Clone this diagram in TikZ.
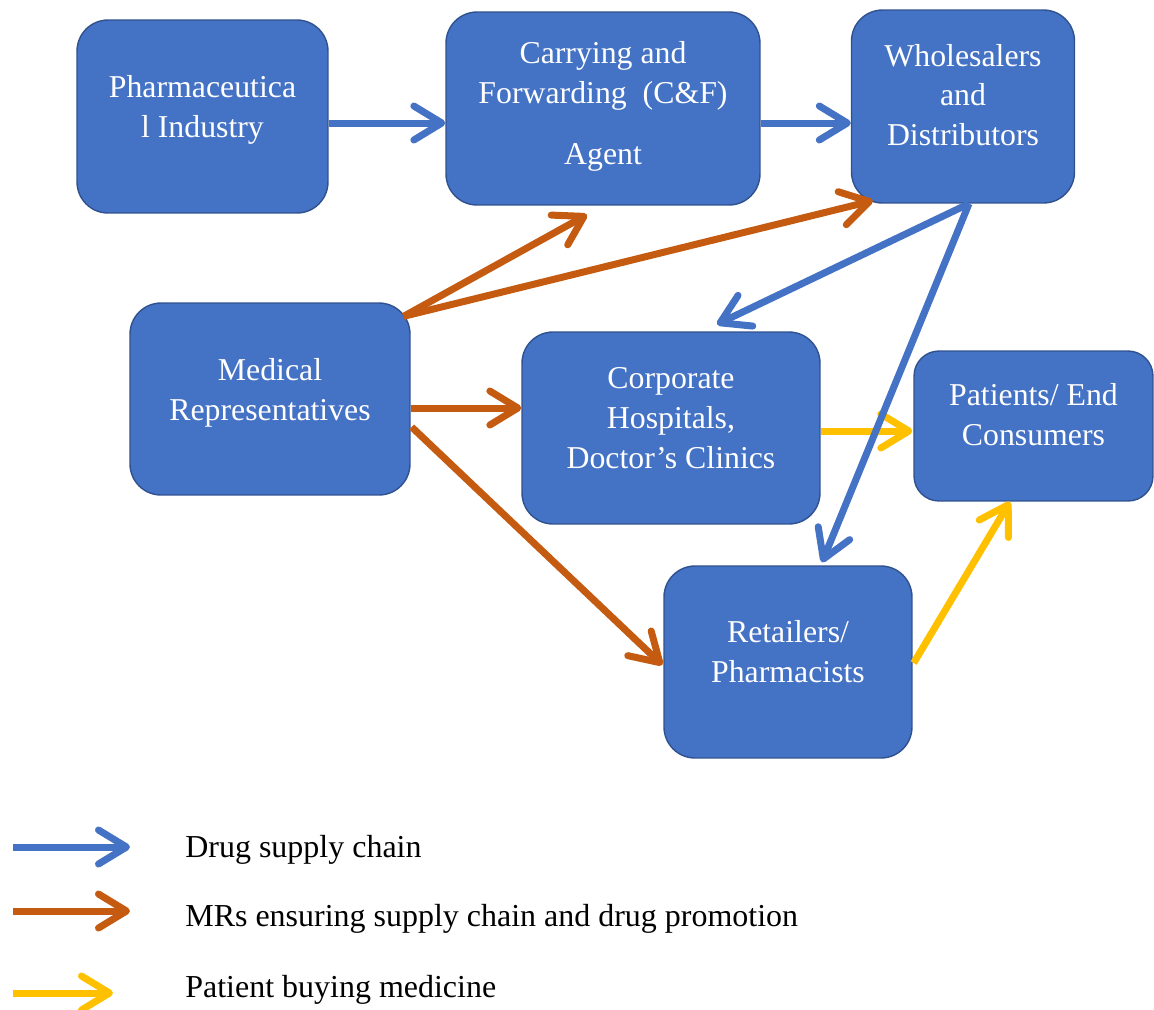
\documentclass[tikz,border=0pt]{standalone}
\usepackage{fontspec}
\setmainfont{Liberation Serif}
\usetikzlibrary{arrows.meta,calc}
\definecolor{boxblue}{HTML}{4472C4}
\definecolor{boxedge}{HTML}{2F528F}
\definecolor{arrblue}{HTML}{4472C4}
\definecolor{arrorange}{HTML}{C55A11}
\definecolor{arryellow}{HTML}{FFC000}
\begin{document}
\begin{tikzpicture}[x=0.02cm,y=-0.02cm,
  box/.style={draw=boxedge, line width=0.8pt, fill=boxblue, rounded corners=0.62cm, inner sep=0pt},
  txt/.style={text=white, align=center, inner sep=0pt, font=\fontsize{18.1}{22.7}\selectfont},
  legtxt/.style={text=black, anchor=west, inner sep=0pt, font=\fontsize{18.2}{22.7}\selectfont},
  flow/.style={line width=0.14cm, -{Straight Barb[length=0.56cm,width=0.68cm,round]}},
  supply/.style={flow, draw=arrblue},
  promo/.style={flow, draw=arrorange},
  buying/.style={flow, draw=arryellow}]
\useasboundingbox (0,0) rectangle (1154,1009);

% boxes
\node[box, minimum width=5.02cm, minimum height=3.86cm] (pharma) at (202.5,116.5) {};
\node[box, minimum width=6.28cm, minimum height=3.86cm] (cf) at (603,108.5) {};
\node[box, minimum width=4.46cm, minimum height=3.86cm] (whole) at (963,106.5) {};
\node[box, minimum width=5.6cm, minimum height=3.84cm] (mr) at (270,399) {};
\node[box, minimum width=5.96cm, minimum height=3.84cm] (corp) at (671,428) {};
\node[box, minimum width=4.78cm, minimum height=3.0cm, rounded corners=0.5cm] (pat) at (1033.5,426) {};
\node[box, minimum width=4.96cm, minimum height=3.84cm] (ret) at (788,662) {};

% box texts
\node[txt] (pharmaT) at (202.5,110) {Pharmaceutica\\l Industry};
\node[txt] (cfT) at (603,106) {Carrying and\\Forwarding\ \ (C\&F)\\[12pt]Agent};
\node[txt] (wholeT) at (963,95) {Wholesalers\\and\\Distributors};
\node[txt] (mrT) at (270,393) {Medical\\Representatives};
\node[txt] (corpT) at (671,418) {Corporate\\Hospitals,\\Doctor’s Clinics};
\node[txt] (patT) at (1033.5,415) {Patients/ End\\Consumers};
\node[txt] (retT) at (788,652) {Retailers/\\Pharmacists};

% patient buying medicine
\draw[buying] ($(corp.east)+(0,3)$) -- ($(pat.west)+(-1,5)$);
\draw[buying] ($(ret.east)+(1,1)$) -- ($(pat.south)+(-23.5,0)$);

% MR promotion
\draw[promo] ($(mr.north east)+(-7,14)$) -- ($(cf.south)+(-16,9)$);
\draw[promo] ($(mr.north east)+(-7,14)$) -- ($(whole.south west)+(22,-3)$);
\draw[promo] ($(mr.east)+(0,9)$) -- ($(corp.west)+(0,-20)$);
\draw[promo] ($(mr.east)+(1,28)$) -- ($(ret.west)+(-1,3)$);

% drug supply chain
\draw[supply] ($(pharma.east)+(0,6.5)$) -- ($(cf.west)+(0,14.5)$);
\draw[supply] ($(cf.east)+(0,14.5)$) -- ($(whole.west)+(0,16.5)$);
\draw[supply] ($(whole.south)+(6,0)$) -- ($(corp.north)+(46,-7)$);
\draw[supply] ($(whole.south)+(6,0)$) -- ($(ret.north)+(34,-3)$);

% legend
\coordinate (l1a) at (13,847);
\coordinate (l1b) at (130,847);
\coordinate (l2a) at (13,911);
\coordinate (l2b) at (130,911);
\coordinate (l3a) at (13,993);
\coordinate (l3b) at (113,993);
\draw[supply] (l1a) -- (l1b);
\draw[promo] (l2a) -- (l2b);
\draw[buying] (l3a) -- (l3b);
\node[legtxt] (leg1) at (185,850) {Drug supply chain};
\node[legtxt] (leg2) at (185,919) {MRs ensuring supply chain and drug promotion};
\node[legtxt] (leg3) at (185,990) {Patient buying medicine};
\end{tikzpicture}
\end{document}
